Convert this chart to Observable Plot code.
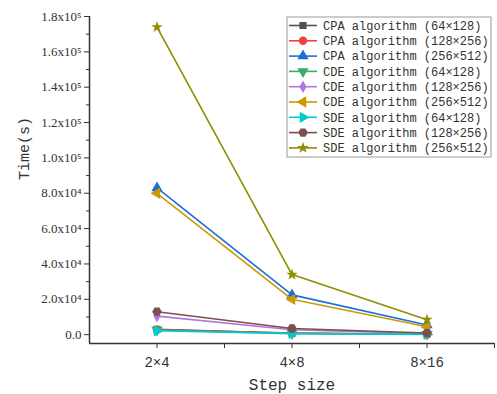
<!DOCTYPE html>
<html><head><meta charset="utf-8">
<script src="https://cdn.jsdelivr.net/npm/d3@7"></script>
<script src="https://cdn.jsdelivr.net/npm/@observablehq/plot@0.6"></script>
<style>body{margin:0;background:#fff;} #c{position:relative;width:497px;height:394px;}</style>
</head><body><div id="c"></div>
<script>
const categories = ["2×4", "4×8", "8×16"];
const seriesNames = [
  "CPA algorithm (64×128)", "CPA algorithm (128×256)", "CPA algorithm (256×512)",
  "CDE algorithm (64×128)", "CDE algorithm (128×256)", "CDE algorithm (256×512)",
  "SDE algorithm (64×128)", "SDE algorithm (128×256)", "SDE algorithm (256×512)"
];
const cpa64  = [3000, 800, 200];
const cpa128 = [2800, 900, 250];
const cpa256 = [83000, 22500, 5500];
const cde64  = [2600, 700, 200];
const cde128 = [10500, 2800, 600];
const cde256 = [80000, 20000, 4500];
const sde64  = [2200, 600, 150];
const sde128 = [13000, 3500, 900];
const sde256 = [174000, 34000, 8500];
const yTicks = [0, 20000, 40000, 60000, 80000, 100000, 120000, 140000, 160000, 180000];
const yTickLabels = ["0.0", "2.0x10\u2074", "4.0x10\u2074", "6.0x10\u2074", "8.0x10\u2074", "1.0x10\u2075", "1.2x10\u2075", "1.4x10\u2075", "1.6x10\u2075", "1.8x10\u2075"];
const colors = ["#515151", "#F14040", "#1A6FDF", "#37AD6B", "#B177DE", "#CC9900", "#00CBCC", "#7D4E4E", "#8E8E00"];

function tri(rot) {
  return {draw(ctx, size) {
    const s = Math.sqrt(size / (Math.sqrt(3) / 4));
    const h = s * Math.sqrt(3) / 2;
    const pts = [[0, -2 * h / 3], [s / 2, h / 3], [-s / 2, h / 3]].map(([x, y]) => {
      const c = Math.cos(rot), si = Math.sin(rot);
      return [x * c - y * si, x * si + y * c];
    });
    ctx.moveTo(pts[0][0], pts[0][1]); ctx.lineTo(pts[1][0], pts[1][1]); ctx.lineTo(pts[2][0], pts[2][1]); ctx.closePath();
  }};
}
const hexagon = {draw(ctx, size) {
  const r = Math.sqrt(size / (3 * Math.sqrt(3) / 2));
  for (let i = 0; i < 6; i++) { const a = Math.PI / 3 * i; const x = r * Math.cos(a), y = r * Math.sin(a); i ? ctx.lineTo(x, y) : ctx.moveTo(x, y); }
  ctx.closePath();
}};
const symbols = [d3.symbolSquare, d3.symbolCircle, tri(0), tri(Math.PI), d3.symbolDiamond, tri(-Math.PI / 2), tri(Math.PI / 2), hexagon, d3.symbolStar];
const symSizes = [50, 55, 55, 55, 45, 55, 55, 60, 42];

const allSeries = [cpa64, cpa128, cpa256, cde64, cde128, cde256, sde64, sde128, sde256];
const rows = [];
allSeries.forEach((vals, si) => vals.forEach((v, i) => rows.push({s: si, name: seriesNames[si], x: i + 1, cat: categories[i], y: v})));

const marks = [];
allSeries.forEach((vals, si) => {
  const d = rows.filter(r => r.s === si);
  marks.push(Plot.line(d, {x: "x", y: "y", stroke: colors[si], strokeWidth: 1.6}));
  marks.push(Plot.dot(d, {x: "x", y: "y", fill: colors[si], stroke: "none", symbol: () => symbols[si], r: Math.sqrt(symSizes[si] / Math.PI)}));
});

const xMin = 0.5, yMin = -5000;
const plot = Plot.plot({
  width: 497, height: 394,
  marginLeft: 89, marginRight: 3, marginTop: 16, marginBottom: 51,
  style: {fontSize: "13px", color: "#333", background: "white"},
  symbol: {type: "identity"},
  x: {type: "linear", domain: [xMin, 3.5], axis: null},
  y: {domain: [yMin, 180000], axis: null},
  marks: [
    Plot.ruleX([xMin], {stroke: "#333", strokeWidth: 1.5}),
    Plot.ruleY([yMin], {stroke: "#333", strokeWidth: 1.5}),
    Plot.axisY({ticks: yTicks, tickSize: 5, tickFormat: () => "", label: null, stroke: "#333"}),
    Plot.axisY({ticks: d3.range(10000, 180001, 20000), tickSize: 3, tickFormat: () => "", label: null, stroke: "#333"}),
    Plot.axisX({ticks: [1, 2, 3], tickSize: 5, tickFormat: () => "", label: null, stroke: "#333"}),
    Plot.axisX({ticks: [1.5, 2.5, 3.5], tickSize: 5, tickFormat: () => "", label: null, stroke: "#333"}),
    Plot.text(yTicks, {x: () => xMin, y: d => d, text: (d, i) => yTickLabels[i], textAnchor: "end", dx: -8, fontFamily: "Liberation Serif", fontSize: 13, fill: "#333"}),
    Plot.text(categories, {x: (d, i) => i + 1, y: () => yMin, text: d => d, dy: 19, fontFamily: "Liberation Mono", fontSize: 14, fill: "#333"}),
    ...marks,
    Plot.text(["Time(s)"], {frameAnchor: "left", dx: -65, rotate: -90, fontFamily: "Liberation Mono", fontSize: 15, fill: "#333"}),
    Plot.text(["Step size"], {frameAnchor: "bottom", dy: 46, fontFamily: "Liberation Mono", fontSize: 16, fill: "#333"})
  ]
});
document.getElementById("c").appendChild(plot);

const svg = d3.select(plot);
const lg = svg.append("g").attr("transform", "translate(287,17)");
lg.append("rect").attr("width", 204).attr("height", 140).attr("fill", "white").attr("stroke", "#999").attr("stroke-width", 1);
seriesNames.forEach((n, i) => {
  const y = 8.5 + i * 15.3;
  lg.append("line").attr("x1", 2).attr("x2", 30).attr("y1", y).attr("y2", y).attr("stroke", colors[i]).attr("stroke-width", 1.6);
  lg.append("path").attr("transform", `translate(16,${y})`).attr("d", d3.symbol(symbols[i], symSizes[i])()).attr("fill", colors[i]);
  lg.append("text").attr("x", 36).attr("y", y).attr("dy", "0.35em").attr("text-anchor", "start").attr("font-family", "Liberation Mono").attr("font-size", "12px").attr("fill", "#333").text(n);
});
</script></body></html>
